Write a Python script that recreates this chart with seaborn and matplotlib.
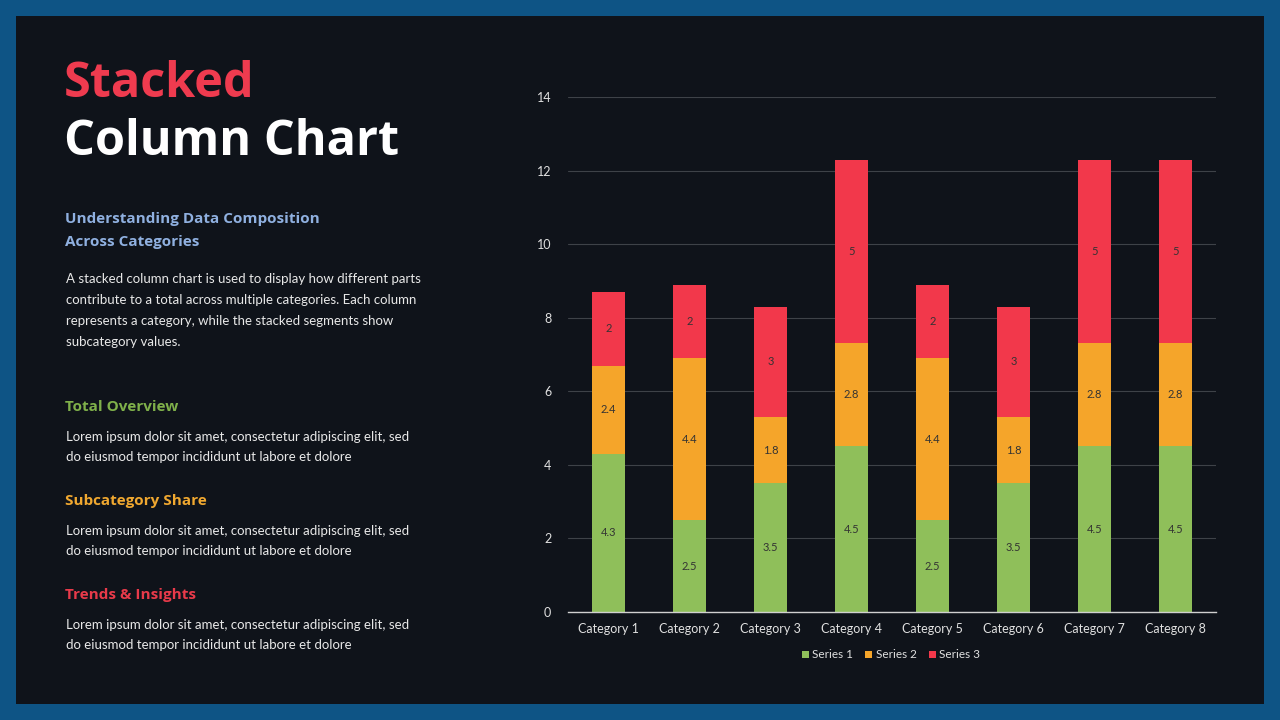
import pandas as pd
import matplotlib.pyplot as plt
import seaborn as sns
from matplotlib.patches import Rectangle, Patch

categories = ["Category 1", "Category 2", "Category 3", "Category 4",
              "Category 5", "Category 6", "Category 7", "Category 8"]
series_1 = [4.3, 2.5, 3.5, 4.5, 2.5, 3.5, 4.5, 4.5]
series_2 = [2.4, 4.4, 1.8, 2.8, 4.4, 1.8, 2.8, 2.8]
series_3 = [2, 2, 3, 5, 2, 3, 5, 5]
series_names = ["Series 1", "Series 2", "Series 3"]

GREEN = "#8fbf5a"
ORANGE = "#f5a52a"
RED = "#f2384b"
BG = "#0f131a"
BORDER = "#0e5485"

df = pd.DataFrame({"category": categories, "s1": series_1, "s2": series_2, "s3": series_3})
df["top2"] = df["s1"] + df["s2"]
df["top3"] = df["top2"] + df["s3"]

sns.set_style("dark")
plt.rcParams["font.family"] = ["Lato", "DejaVu Sans"]

fig = plt.figure(figsize=(12.8, 7.2), dpi=100, facecolor=BORDER)
fig.patches.append(Rectangle((16 / 1280, 16 / 720), 1248 / 1280, 688 / 720,
                             transform=fig.transFigure, facecolor=BG, edgecolor="none", zorder=-5))


def px(x, y):
    return x / 1280, 1 - y / 720


head_font = ["Open Sans", "DejaVu Sans"]
fig.text(*px(64, 97), "Stacked", color="#ef3b4f", fontsize=35, fontweight="bold",
         family=head_font, va="baseline")
fig.text(*px(64, 155), "Column Chart", color="white", fontsize=35, fontweight="bold",
         family=head_font, va="baseline")

fig.text(*px(65, 219), "Understanding Data Composition", color="#8fb0e0", fontsize=11,
         fontweight="bold", family=head_font, va="center")
fig.text(*px(65, 242), "Across Categories", color="#8fb0e0", fontsize=11,
         fontweight="bold", family=head_font, va="center")
intro = ["A stacked column chart is used to display how different parts",
         "contribute to a total across multiple categories. Each column",
         "represents a category, while the stacked segments show",
         "subcategory values."]
for i, line in enumerate(intro):
    fig.text(*px(66, 279 + i * 21), line, color="#e8e8e8", fontsize=9.5, va="center")

sections = [("Total Overview", "#7fb04a", 407),
            ("Subcategory Share", "#f0a830", 501),
            ("Trends & Insights", "#e83a4a", 595)]
lorem = ["Lorem ipsum dolor sit amet, consectetur adipiscing elit, sed",
         "do eiusmod tempor incididunt ut labore et dolore"]
for title, color, y in sections:
    fig.text(*px(65, y), title, color=color, fontsize=11, fontweight="bold",
             family=head_font, va="center")
    for i, line in enumerate(lorem):
        fig.text(*px(66, y + 30 + i * 20), line, color="#e8e8e8", fontsize=9.5, va="center")

# chart
ax = fig.add_axes([568 / 1280, 108 / 720, 648 / 1280, 515 / 720])
ax.set_facecolor(BG)
bar_kw = dict(width=0.41, saturation=1, ax=ax, zorder=3, linewidth=0, edgecolor="none")
sns.barplot(data=df, x="category", y="top3", color=RED, **bar_kw)
sns.barplot(data=df, x="category", y="top2", color=ORANGE, **bar_kw)
sns.barplot(data=df, x="category", y="s1", color=GREEN, **bar_kw)

for i in range(len(categories)):
    ax.text(i, series_1[i] / 2, f"{series_1[i]:g}", ha="center", va="center",
            fontsize=8, color="#333333", zorder=4)
    ax.text(i, series_1[i] + series_2[i] / 2, f"{series_2[i]:g}", ha="center", va="center",
            fontsize=8, color="#333333", zorder=4)
    ax.text(i, df["top2"][i] + series_3[i] / 2, f"{series_3[i]:g}", ha="center", va="center",
            fontsize=8, color="#333333", zorder=4)

ax.set_ylim(0, 14)
ax.set_xlim(-0.5, 7.5)
ax.set_yticks(range(0, 15, 2))
ax.grid(axis="y", color="#3e4248", linewidth=0.8, zorder=0)
ax.grid(axis="x", visible=False)
ax.set_axisbelow(True)
ax.set_xlabel("")
ax.set_ylabel("")
ax.tick_params(axis="both", colors="#e0e0e0", labelsize=9, length=0, pad=8)
ax.tick_params(axis="y", pad=12)
for side in ["top", "right", "left"]:
    ax.spines[side].set_visible(False)
ax.spines["bottom"].set_color("#d0d0d0")
ax.spines["bottom"].set_linewidth(1)
ax.spines["bottom"].set_zorder(5)

handles = [Patch(facecolor=c, edgecolor="none", label=n)
           for c, n in zip([GREEN, ORANGE, RED], series_names)]
fig.legend(handles=handles, loc="center", bbox_to_anchor=px(891, 655), ncol=3, frameon=False,
           fontsize=8.5, labelcolor="#e0e0e0", handlelength=0.6, handleheight=0.6,
           handletextpad=0.3, columnspacing=1.0)

fig.savefig("out.png", dpi=100, facecolor=BORDER)
